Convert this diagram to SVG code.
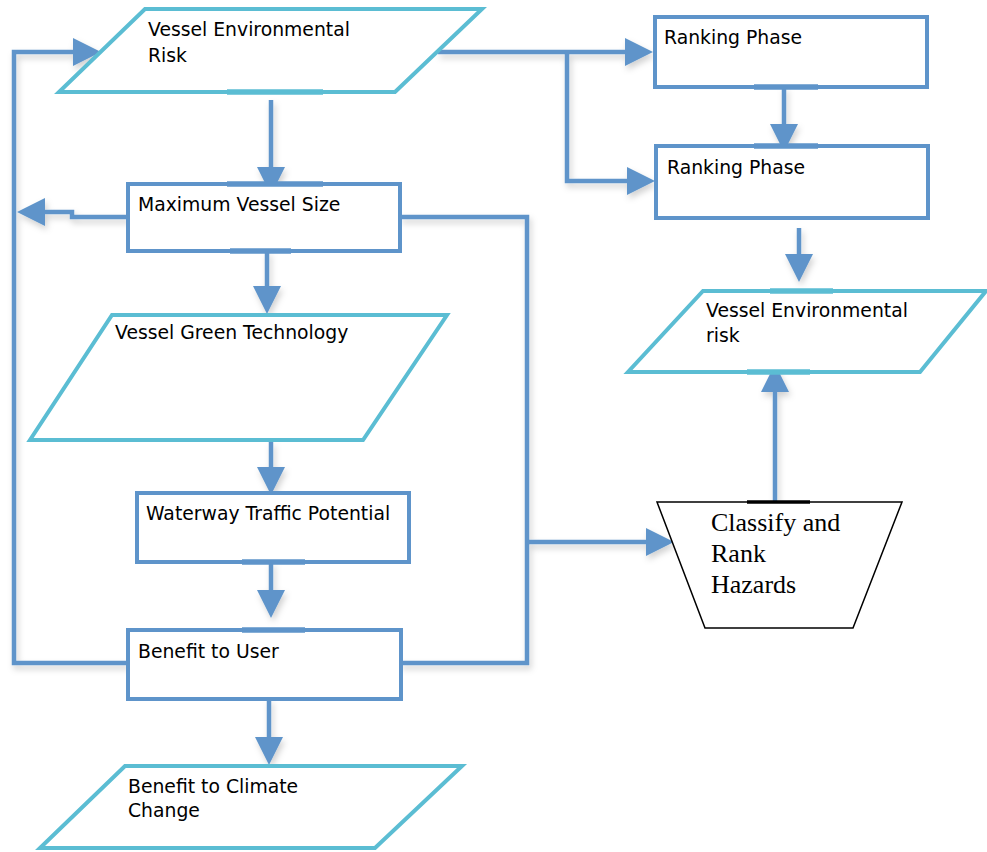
<svg xmlns="http://www.w3.org/2000/svg" width="987" height="852" viewBox="0 0 987 852">
  <defs>
    <style>
      .box { fill: #ffffff; stroke: #5e94ca; stroke-width: 4; }
      .data { fill: #ffffff; stroke: #5bbdd3; stroke-width: 4; stroke-linejoin: miter; }
      .manual { fill: #ffffff; stroke: #000000; stroke-width: 1.5; }
      .glue-b { stroke: #5e94ca; stroke-width: 5.5; }
      .glue-c { stroke: #5bbdd3; stroke-width: 5.5; }
      .glue-k { stroke: #000000; stroke-width: 3.5; }
      .wire { fill: none; stroke: #5e94ca; stroke-width: 4.5; stroke-linejoin: miter; }
      .lbl { font-family: "DejaVu Sans", Verdana, sans-serif; font-size: 18.8px; fill: #000000; }
      .serif { font-family: "Liberation Serif", "Times New Roman", serif; font-size: 26px; fill: #000000; }
    </style>
    <marker id="arrow" viewBox="0 0 28 28" refX="0" refY="14" markerWidth="28" markerHeight="28" markerUnits="userSpaceOnUse" orient="auto">
      <path d="M0,0 L28,14 L0,28 Z" fill="#5e94ca"/>
    </marker>
    <filter id="soft" x="-10%" y="-10%" width="130%" height="130%">
      <feDropShadow dx="2" dy="4" stdDeviation="3" flood-color="#000000" flood-opacity="0.18"/>
    </filter>
  </defs>

  <rect width="987" height="852" fill="#ffffff"/>

  <!-- connectors -->
  <g id="connectors" class="wire" filter="url(#soft)">
    <path d="M271,100 V167" marker-end="url(#arrow)"/>
    <path d="M128,217 H72 V212 H45" marker-end="url(#arrow)"/>
    <path d="M128,663 H14 V52 H73" marker-end="url(#arrow)"/>
    <path d="M400,217 H527 V663 H400"/>
    <path d="M527,542 H646" marker-end="url(#arrow)"/>
    <path d="M267,251 V286" marker-end="url(#arrow)"/>
    <path d="M271,442 V467" marker-end="url(#arrow)"/>
    <path d="M271,562 V590" marker-end="url(#arrow)"/>
    <path d="M269,699 V737" marker-end="url(#arrow)"/>
    <path d="M438,52 H625" marker-end="url(#arrow)"/>
    <path d="M567,52 V181 H627" marker-end="url(#arrow)"/>
    <path d="M784,87 V124" marker-end="url(#arrow)"/>
    <path d="M799,228 V254" marker-end="url(#arrow)"/>
    <path d="M775,502 V392" marker-end="url(#arrow)"/>
  </g>

  <!-- Vessel Environmental Risk (input) -->
  <g id="vessel-env-risk-in">
    <polygon class="data" points="145,9 482,9 395,92 59,92"/>
    <line class="glue-c" x1="227" y1="92" x2="323" y2="92"/>
    <text class="lbl" x="148" y="36">Vessel Environmental</text>
    <text class="lbl" x="148" y="62">Risk</text>
  </g>

  <!-- Maximum Vessel Size -->
  <g id="max-vessel-size">
    <rect class="box" x="128" y="184" width="272" height="67"/>
    <line class="glue-b" x1="227" y1="184" x2="323" y2="184"/>
    <line class="glue-b" x1="230" y1="251" x2="291" y2="251"/>
    <text class="lbl" x="138" y="211">Maximum Vessel Size</text>
  </g>

  <!-- Vessel Green Technology -->
  <g id="vessel-green-tech">
    <polygon class="data" points="112,315 447,315 363,440 30,440"/>
    <text class="lbl" x="115" y="339">Vessel Green Technology</text>
  </g>

  <!-- Waterway Traffic Potential -->
  <g id="waterway-traffic">
    <rect class="box" x="137" y="493" width="272" height="69"/>
    <line class="glue-b" x1="242" y1="562" x2="305" y2="562"/>
    <text class="lbl" x="146" y="520">Waterway Traffic Potential</text>
  </g>

  <!-- Benefit to User -->
  <g id="benefit-user">
    <rect class="box" x="128" y="630" width="273" height="69"/>
    <line class="glue-b" x1="242" y1="630" x2="305" y2="630"/>
    <text class="lbl" x="138" y="658">Benefit to User</text>
  </g>

  <!-- Benefit to Climate Change -->
  <g id="benefit-climate">
    <polygon class="data" points="125,766 462,766 375,848 40,848"/>
    <text class="lbl" x="128" y="793">Benefit to Climate</text>
    <text class="lbl" x="128" y="817">Change</text>
  </g>

  <!-- Ranking Phase (upper) -->
  <g id="ranking-phase-1">
    <rect class="box" x="655" y="17" width="272" height="70"/>
    <line class="glue-b" x1="754" y1="87" x2="818" y2="87"/>
    <text class="lbl" x="664" y="44">Ranking Phase</text>
  </g>

  <!-- Ranking Phase (lower) -->
  <g id="ranking-phase-2">
    <rect class="box" x="656" y="146" width="272" height="72"/>
    <line class="glue-b" x1="754" y1="146" x2="818" y2="146"/>
    <text class="lbl" x="667" y="174">Ranking Phase</text>
  </g>

  <!-- Vessel Environmental risk (output) -->
  <g id="vessel-env-risk-out">
    <polygon class="data" points="703,291 986,291 920,372 628,372"/>
    <line class="glue-c" x1="770" y1="291" x2="833" y2="291"/>
    <line class="glue-c" x1="747" y1="372" x2="810" y2="372"/>
    <text class="lbl" x="706" y="317">Vessel Environmental</text>
    <text class="lbl" x="706" y="342">risk</text>
  </g>

  <!-- Classify and Rank Hazards (manual operation) -->
  <g id="classify-rank">
    <polygon class="manual" points="657,502 902,502 853,628 705,628"/>
    <line class="glue-k" x1="747" y1="502" x2="810" y2="502"/>
    <text class="serif" x="711" y="531">Classify and</text>
    <text class="serif" x="711" y="562">Rank</text>
    <text class="serif" x="711" y="593">Hazards</text>
  </g>
</svg>
